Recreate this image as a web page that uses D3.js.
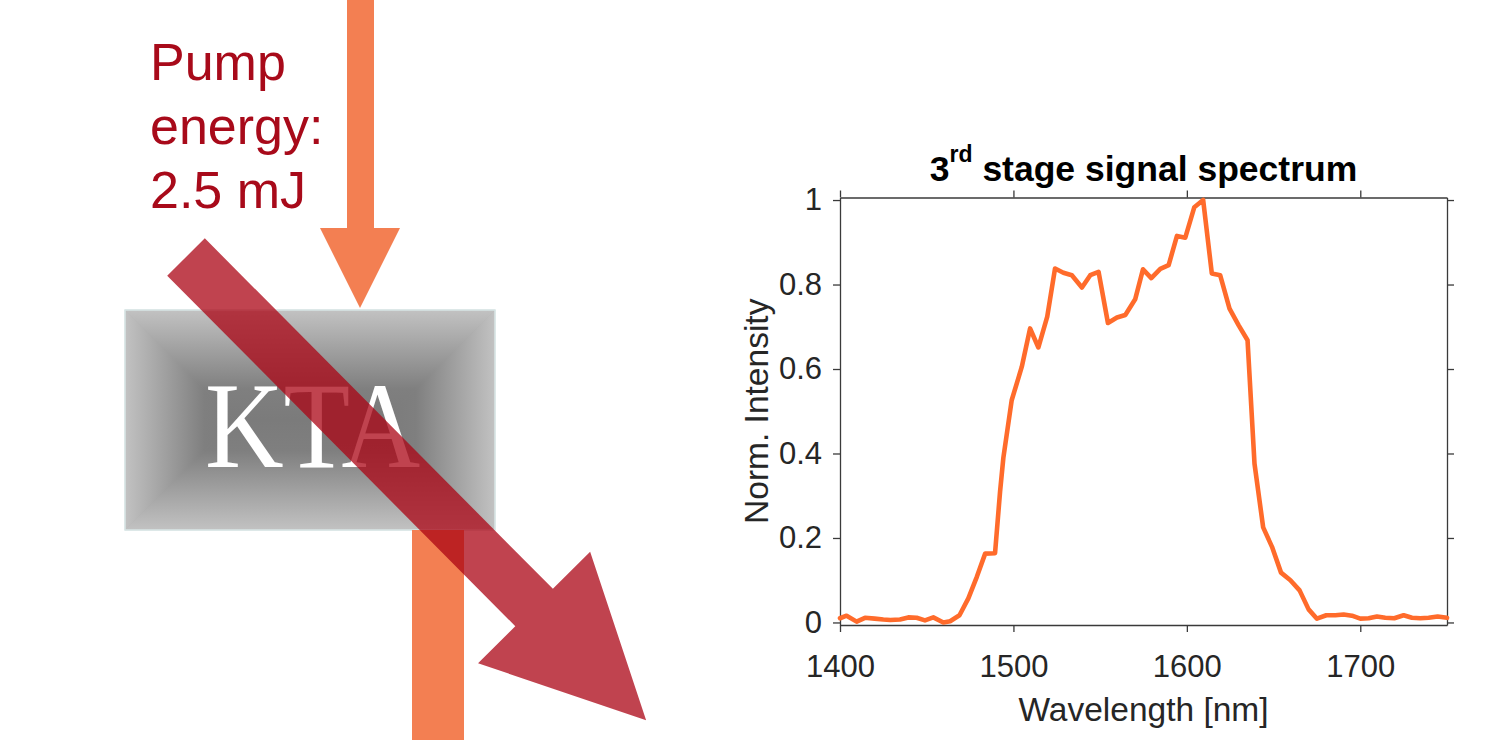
<!DOCTYPE html>
<html>
<head>
<meta charset="utf-8">
<script src="https://cdn.jsdelivr.net/npm/d3@7/dist/d3.min.js"></script>
<style>
  html, body { margin: 0; padding: 0; background: #ffffff; }
  svg { display: block; }
</style>
</head>
<body>
<svg id="fig" width="1491" height="740"></svg>
<script>
// Spectrum of the 3rd OPA stage (normalized)
const wavelength = [
  1400, 1403.8, 1409.6, 1414.4, 1420, 1425, 1429, 1434.6, 1439.4, 1444.2,
  1449, 1453.8, 1459.6, 1463.5, 1468.9, 1474, 1478.9, 1483.7, 1489.4, 1492.3,
  1494.2, 1499, 1504.8, 1509.6, 1514.4, 1519.5, 1524, 1528.8, 1533.7, 1539.5,
  1544.3, 1549.1, 1554.5, 1559.7, 1564.5, 1570.2, 1574.7, 1579.5, 1584.7, 1589.5,
  1594.3, 1599.1, 1604.3, 1609.4, 1614.4, 1619.2, 1624.6, 1629.8, 1635, 1639,
  1644, 1649.1, 1654.3, 1659.7, 1665, 1670.2, 1675, 1680.4, 1685.6, 1690.4,
  1695.2, 1700, 1704.8, 1709.6, 1714.4, 1719.6, 1725, 1729.8, 1734.6, 1739.4,
  1744.6, 1750
];
const intensity = [
  0.010, 0.016, 0.002, 0.011, 0.009, 0.007, 0.006, 0.007, 0.012, 0.011,
  0.005, 0.012, 0.000, 0.003, 0.017, 0.057, 0.108, 0.163, 0.164, 0.310,
  0.390, 0.526, 0.605, 0.696, 0.651, 0.724, 0.838, 0.828, 0.822, 0.793,
  0.822, 0.830, 0.709, 0.722, 0.728, 0.765, 0.836, 0.815, 0.837, 0.846,
  0.915, 0.911, 0.983, 1.000, 0.826, 0.822, 0.743, 0.704, 0.668, 0.376,
  0.225, 0.179, 0.118, 0.100, 0.076, 0.031, 0.009, 0.017, 0.017, 0.019,
  0.016, 0.009, 0.010, 0.014, 0.011, 0.010, 0.017, 0.011, 0.010, 0.011,
  0.014, 0.011
];
const xTicks = [1400, 1500, 1600, 1700];
const yTicks = [0, 0.2, 0.4, 0.6, 0.8, 1];
const xDomain = [1400, 1750];
const yDomain = [-0.006, 1.006];

const titleNum = "3";
const titleSup = "rd";
const titleRest = " stage signal spectrum";
const xLabel = "Wavelength [nm]";
const yLabel = "Norm. Intensity";
const pumpLines = ["Pump", "energy:", "2.5 mJ"];
const crystalName = "KTA";

const svg = d3.select("#fig");

// ---------- Setup sketch (left) ----------
const sketch = svg.append("g").attr("class", "sketch");
const defs = svg.append("defs");

const box = { x0: 125, y0: 310, x1: 495, y1: 530 };
const half = (box.y1 - box.y0) / 2;
const cy = box.y0 + half;

// rectangular "from centre" shading built from four trapezoids
function grad(id, x1, y1, x2, y2) {
  const g = defs.append("linearGradient").attr("id", id)
    .attr("gradientUnits", "userSpaceOnUse")
    .attr("x1", x1).attr("y1", y1).attr("x2", x2).attr("y2", y2);
  g.append("stop").attr("offset", 0).attr("stop-color", "#c2c2c2");
  g.append("stop").attr("offset", 0.72).attr("stop-color", "#7f7f7f");
  g.append("stop").attr("offset", 1).attr("stop-color", "#7b7b7b");
}
grad("gTop", 0, box.y0, 0, cy);
grad("gBot", 0, box.y1, 0, cy);
grad("gLeft", box.x0, 0, box.x0 + half, 0);
grad("gRight", box.x1, 0, box.x1 - half, 0);

const cxL = box.x0 + half, cxR = box.x1 - half;
const faces = [
  { id: "gTop", pts: [[box.x0, box.y0], [box.x1, box.y0], [cxR, cy], [cxL, cy]] },
  { id: "gBot", pts: [[box.x0, box.y1], [box.x1, box.y1], [cxR, cy], [cxL, cy]] },
  { id: "gLeft", pts: [[box.x0, box.y0], [cxL, cy], [box.x0, box.y1]] },
  { id: "gRight", pts: [[box.x1, box.y0], [cxR, cy], [box.x1, box.y1]] }
];
sketch.append("rect")
  .attr("x", box.x0).attr("y", box.y0)
  .attr("width", box.x1 - box.x0).attr("height", box.y1 - box.y0)
  .attr("fill", "#9a9a9a");
sketch.selectAll("polygon.face").data(faces).enter().append("polygon")
  .attr("class", "face")
  .attr("points", d => d.pts.map(p => p.join(",")).join(" "))
  .attr("fill", d => `url(#${d.id})`)
  .attr("stroke", d => `url(#${d.id})`)
  .attr("stroke-width", 0.6);
sketch.append("rect")
  .attr("x", box.x0).attr("y", box.y0)
  .attr("width", box.x1 - box.x0).attr("height", box.y1 - box.y0)
  .attr("fill", "none").attr("stroke", "#d8e6e6").attr("stroke-width", 1.5);

sketch.append("text")
  .attr("x", 205).attr("y", 467)
  .attr("font-family", "'Liberation Serif', 'DejaVu Serif', serif")
  .attr("font-size", 122)
  .attr("fill", "#ffffff")
  .attr("textLength", 215)
  .attr("lengthAdjust", "spacingAndGlyphs")
  .text(crystalName);

// pump beam: incoming arrow and transmitted beam
const pumpColor = "#f37f52";
sketch.append("polygon")
  .attr("points", [[347, 0], [374, 0], [374, 228], [400, 228], [360, 308], [320, 228], [347, 228]]
    .map(p => p.join(",")).join(" "))
  .attr("fill", pumpColor);
sketch.append("rect")
  .attr("x", 412).attr("y", box.y1).attr("width", 52).attr("height", 740 - box.y1)
  .attr("fill", pumpColor);

// signal beam: diagonal arrow, semi-transparent on top
const sig = { x: 186, y: 257, angle: 45.2, shaft: 494, sw: 53, hw: 158, hl: 159 };
const arrowPts = [
  [0, -sig.sw / 2], [sig.shaft, -sig.sw / 2], [sig.shaft, -sig.hw / 2],
  [sig.shaft + sig.hl, 0],
  [sig.shaft, sig.hw / 2], [sig.shaft, sig.sw / 2], [0, sig.sw / 2]
];
sketch.append("polygon")
  .attr("points", arrowPts.map(p => p.join(",")).join(" "))
  .attr("transform", `translate(${sig.x},${sig.y}) rotate(${sig.angle})`)
  .attr("fill", "rgb(171,4,20)")
  .attr("fill-opacity", 0.75);

// pump energy annotation
const pumpText = sketch.append("text")
  .attr("font-family", "'Liberation Sans', Arial, sans-serif")
  .attr("font-size", 52)
  .attr("fill", "#a80a1a");
pumpLines.forEach((t, i) => {
  pumpText.append("tspan").attr("x", 150).attr("y", 80 + i * 64).text(t);
});

// ---------- Spectrum plot (right) ----------
const plot = { left: 840, right: 1447, top: 197.5, bottom: 625 };
const x = d3.scaleLinear().domain(xDomain).range([plot.left, plot.right]);
const y = d3.scaleLinear().domain(yDomain).range([plot.bottom, plot.top]);

const axisColor = "#3a3a3a";
const textColor = "#262626";
const font = "'Liberation Sans', Arial, Helvetica, sans-serif";
const tickLen = 7;

function styleAxis(g) {
  g.selectAll(".domain").attr("stroke", axisColor).attr("stroke-width", 1.3);
  g.selectAll(".tick line").attr("stroke", axisColor).attr("stroke-width", 1.3);
  g.selectAll(".tick text").attr("fill", textColor)
    .attr("font-family", font).attr("font-size", 31);
}

const gx = svg.append("g").attr("transform", `translate(0,${plot.bottom})`)
  .call(d3.axisBottom(x).tickValues(xTicks).tickSize(tickLen).tickSizeOuter(0)
    .tickPadding(23).tickFormat(d3.format("d")));
styleAxis(gx);

const gxTop = svg.append("g").attr("transform", `translate(0,${plot.top})`)
  .call(d3.axisTop(x).tickValues(xTicks).tickSize(tickLen).tickSizeOuter(0).tickFormat(""));
styleAxis(gxTop);

const gy = svg.append("g").attr("transform", `translate(${plot.left},0)`)
  .call(d3.axisLeft(y).tickValues(yTicks).tickSize(tickLen).tickSizeOuter(0)
    .tickPadding(11).tickFormat(d3.format("~g")));
styleAxis(gy);

const gyRight = svg.append("g").attr("transform", `translate(${plot.right},0)`)
  .call(d3.axisRight(y).tickValues(yTicks).tickSize(tickLen).tickSizeOuter(0).tickFormat(""));
styleAxis(gyRight);

// spectrum curve
const pts = wavelength.map((w, i) => [w, intensity[i]]);
svg.append("path")
  .datum(pts)
  .attr("d", d3.line().x(d => x(d[0])).y(d => y(d[1])))
  .attr("fill", "none")
  .attr("stroke", "#ff6b2b")
  .attr("stroke-width", 4.6)
  .attr("stroke-linejoin", "round")
  .attr("stroke-linecap", "round");

// labels
const midX = (plot.left + plot.right) / 2;
svg.append("text")
  .attr("x", midX).attr("y", 721)
  .attr("text-anchor", "middle")
  .attr("font-family", font).attr("font-size", 33.5)
  .attr("fill", textColor)
  .text(xLabel);

svg.append("text")
  .attr("transform", `translate(768,${(plot.top + plot.bottom) / 2}) rotate(-90)`)
  .attr("text-anchor", "middle")
  .attr("font-family", font).attr("font-size", 33.5)
  .attr("fill", textColor)
  .text(yLabel);

const title = svg.append("text")
  .attr("x", midX).attr("y", 181)
  .attr("text-anchor", "middle")
  .attr("font-family", font).attr("font-size", 35.5)
  .attr("font-weight", "bold")
  .attr("fill", "#000000");
title.append("tspan").text(titleNum);
title.append("tspan").attr("font-size", 23).attr("dy", -19).text(titleSup);
title.append("tspan").attr("dy", 19).text(titleRest);
</script>
</body>
</html>
